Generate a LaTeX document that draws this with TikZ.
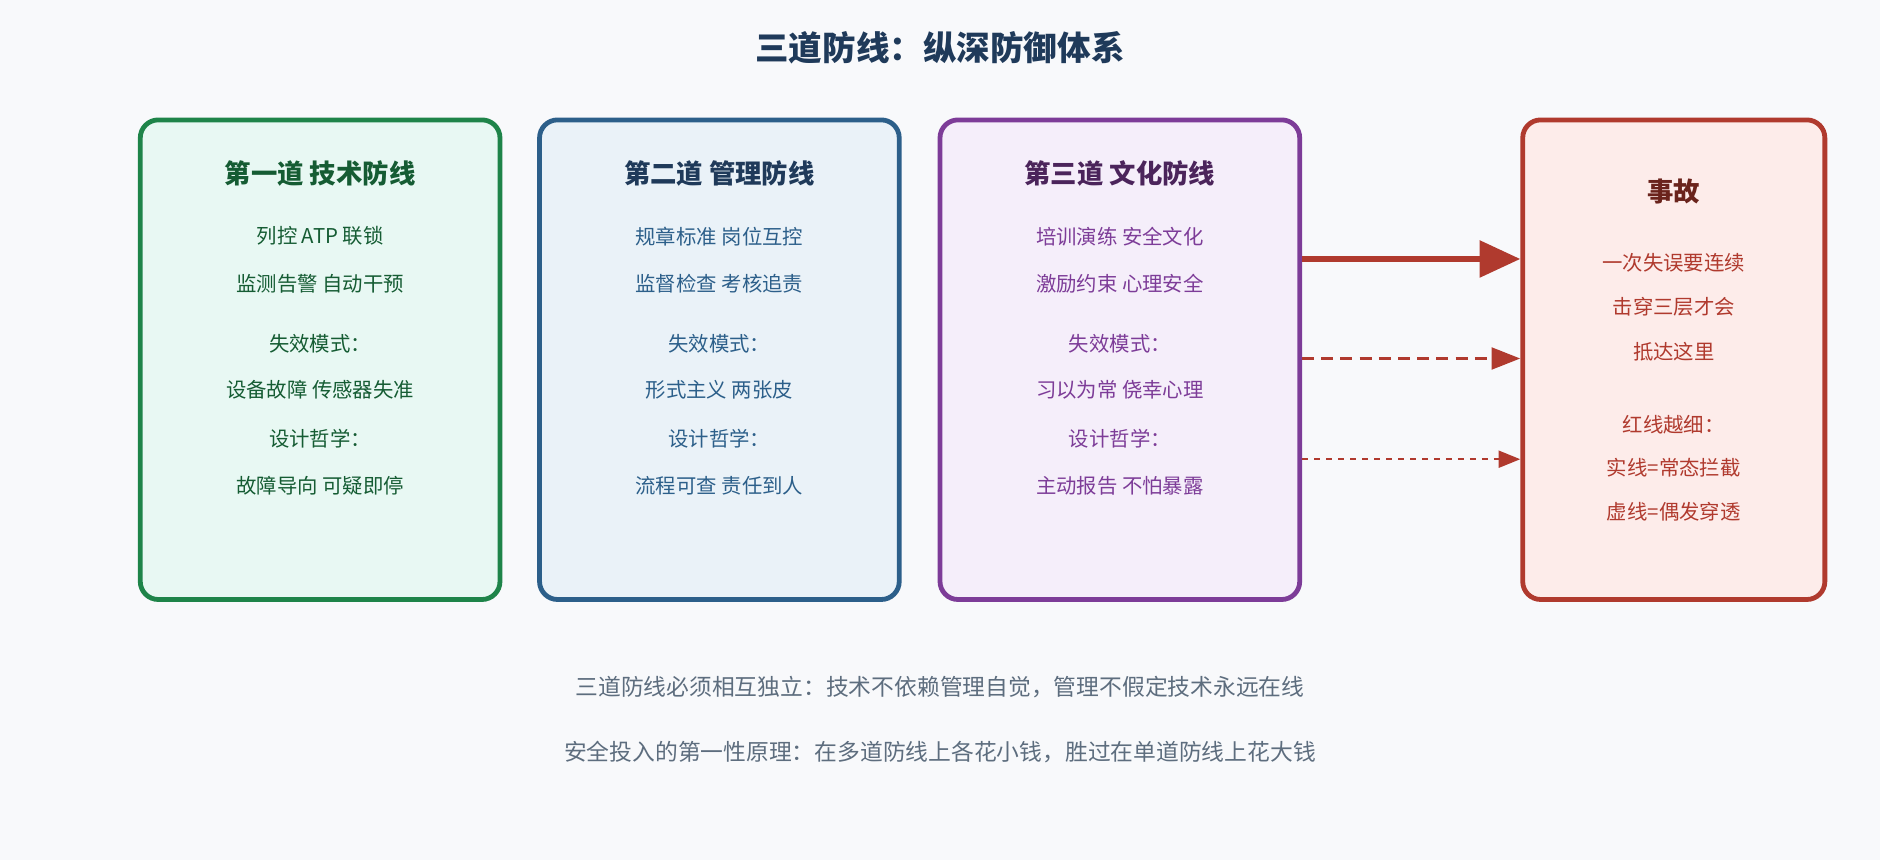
\documentclass[tikz,border=0pt]{standalone}
\usepackage{fontspec}
\setmainfont{Noto Sans CJK SC}
\usepackage{tikz}
\usetikzlibrary{arrows.meta, calc, positioning}

\definecolor{bgcol}{HTML}{F8F9FB}
\definecolor{titlecol}{HTML}{1F3A5A}
\definecolor{greenline}{HTML}{1E8449}
\definecolor{greenfill}{HTML}{E8F8F3}
\definecolor{blueline}{HTML}{2C5F8A}
\definecolor{bluefill}{HTML}{EAF2F8}
\definecolor{purpleline}{HTML}{7D3C98}
\definecolor{purplefill}{HTML}{F5EEFA}
\definecolor{redline}{HTML}{B03A2E}
\definecolor{redfill}{HTML}{FDECEA}
\definecolor{notecol}{HTML}{5D6D7E}

\begin{document}
\begin{tikzpicture}[x=1pt, y=-1pt,
line box/.style = {rounded corners=15pt, line width=4pt},
box title/.style = {font=\fontsize{22}{26}\selectfont\bfseries},
box text/.style = {font=\fontsize{17}{20}\selectfont},
note text/.style = {font=\fontsize{19}{23}\selectfont, text=notecol}
]
\fill[bgcol] (0,0) rectangle (1568,717);
\useasboundingbox (0,0) rectangle (1568,717);

\node (title) at (784,40) [font=\fontsize{28}{32}\selectfont\bfseries, text=titlecol] {三道防线：纵深防御体系};

% the four boxes
\draw[line box, draw=greenline, fill=greenfill] (117,100) rectangle (417,500);
\draw[line box, draw=blueline, fill=bluefill] (450,100) rectangle (750,500);
\draw[line box, draw=purpleline, fill=purplefill] (784,100) rectangle (1084,500);
\draw[line box, draw=redline, fill=redfill] (1270,100) rectangle (1522,500);

% first line
\begin{scope}[text=greenline!70!black]
\node (t1) at (267,145) [box title] {第一道 技术防线};
\node (a1) at (267,197) [box text] {列控 ATP 联锁};
\node (b1) at (267,237) [box text] {监测告警 自动干预};
\node (c1) at (267,287) [box text] {失效模式：};
\node (d1) at (267,325) [box text] {设备故障 传感器失准};
\node (e1) at (267,366) [box text] {设计哲学：};
\node (f1) at (267,405) [box text] {故障导向 可疑即停};
\end{scope}

% second line
\begin{scope}[text=blueline]
\node (t2) at (600,145) [box title, text=titlecol] {第二道 管理防线};
\node (a2) at (600,197) [box text] {规章标准 岗位互控};
\node (b2) at (600,237) [box text] {监督检查 考核追责};
\node (c2) at (600,287) [box text] {失效模式：};
\node (d2) at (600,325) [box text] {形式主义 两张皮};
\node (e2) at (600,366) [box text] {设计哲学：};
\node (f2) at (600,405) [box text] {流程可查 责任到人};
\end{scope}

% third line
\begin{scope}[text=purpleline]
\node (t3) at (934,145) [box title, text=purpleline!60!black] {第三道 文化防线};
\node (a3) at (934,197) [box text] {培训演练 安全文化};
\node (b3) at (934,237) [box text] {激励约束 心理安全};
\node (c3) at (934,287) [box text] {失效模式：};
\node (d3) at (934,325) [box text] {习以为常 侥幸心理};
\node (e3) at (934,366) [box text] {设计哲学：};
\node (f3) at (934,405) [box text] {主动报告 不怕暴露};
\end{scope}

% accident
\begin{scope}[text=redline]
\node (t4) at (1396,160) [box title, text=redline!60!black] {事故};
\node (a4) at (1396,219) [box text] {一次失误要连续};
\node (b4) at (1396,256) [box text] {击穿三层才会};
\node (c4) at (1396,293) [box text] {抵达这里};
\node (d4) at (1396,354) [box text] {红线越细：};
\node (e4) at (1396,390) [box text] {实线=常态拦截};
\node (f4) at (1396,427) [box text] {虚线=偶发穿透};
\end{scope}

\coordinate (s1) at (1086,216);
\coordinate (e1x) at (1268,216);
\coordinate (s2) at (1086,299);
\coordinate (e2x) at (1268,299);
\coordinate (s3) at (1086,383);
\coordinate (e3x) at (1268,383);

\draw[redline, line width=5pt, -{Triangle[length=34pt, width=30pt]}] (s1) -- (e1x);
\draw[redline, line width=3pt, dash pattern=on 10pt off 6pt, -{Triangle[length=24pt, width=18pt]}] (s2) -- (e2x);
\draw[redline, line width=2pt, dash pattern=on 5pt off 5pt, -{Triangle[length=18pt, width=14pt]}] (s3) -- (e3x);

\node (n1) at (784,573) [note text] {三道防线必须相互独立：技术不依赖管理自觉，管理不假定技术永远在线};
\node (n2) at (784,627) [note text] {安全投入的第一性原理：在多道防线上各花小钱，胜过在单道防线上花大钱};
\end{tikzpicture}
\end{document}
